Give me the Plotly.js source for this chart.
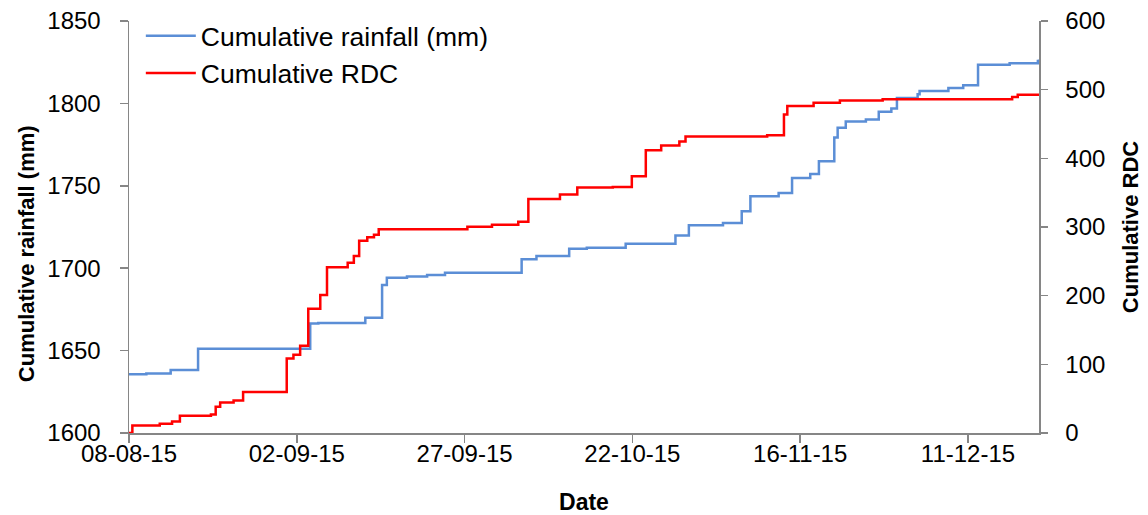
<!DOCTYPE html>
<html>
<head>
<meta charset="utf-8">
<script src="https://cdn.plot.ly/plotly-3.0.1.min.js"></script>
<style>
html,body{margin:0;padding:0;background:#fff;}
#chart{width:1148px;height:515px;}
</style>
</head>
<body>
<div id="chart"></div>
<script>
// Cumulative rainfall (mm) — step vertices
const rainDates = [
  '2015-08-08 00:00','2015-08-10 14:00','2015-08-14 05:00','2015-08-18 07:00',
  '2015-09-04 00:00','2015-09-05 05:00','2015-09-12 05:00','2015-09-14 17:00',
  '2015-09-15 10:00','2015-09-18 10:00','2015-09-21 10:00','2015-09-24 02:00',
  '2015-10-05 12:00','2015-10-07 17:00','2015-10-12 14:00','2015-10-15 05:00',
  '2015-10-21 00:00','2015-10-28 10:00','2015-10-30 10:00','2015-11-04 12:00',
  '2015-11-07 07:00','2015-11-08 14:00','2015-11-12 19:00','2015-11-14 19:00',
  '2015-11-17 12:00','2015-11-18 19:00','2015-11-21 02:00','2015-11-21 14:00',
  '2015-11-22 19:00','2015-11-25 19:00','2015-11-27 17:00','2015-11-29 14:00',
  '2015-11-30 10:00','2015-12-03 12:00','2015-12-03 19:00','2015-12-08 02:00',
  '2015-12-10 07:00','2015-12-12 12:00','2015-12-17 05:00','2015-12-21 10:00',
  '2015-12-21 14:00'
];
const rainValues = [
  1635.7,1636.1,1638.3,1651.1,
  1666.5,1666.8,1670.0,1689.8,
  1694.2,1694.9,1695.9,1697.3,
  1705.4,1707.4,1711.8,1712.4,
  1714.8,1719.9,1726.0,1727.4,
  1734.6,1743.7,1745.7,1754.8,
  1757.1,1764.9,1779.3,1785.3,
  1789.0,1790.2,1795.0,1796.9,
  1803.3,1805.5,1807.5,1809.3,
  1811.0,1823.5,1824.3,1825.7,
  1826.7
];

// Cumulative RDC — step vertices
const rdcDates = [
  '2015-08-08 00:00','2015-08-08 12:00','2015-08-12 14:00','2015-08-14 10:00',
  '2015-08-15 14:00','2015-08-20 05:00','2015-08-20 22:00','2015-08-21 14:00',
  '2015-08-23 14:00','2015-08-25 00:00','2015-08-31 12:00','2015-09-01 12:00',
  '2015-09-02 12:00','2015-09-03 17:00','2015-09-05 12:00','2015-09-06 12:00',
  '2015-09-09 14:00','2015-09-10 12:00','2015-09-11 07:00','2015-09-12 12:00',
  '2015-09-13 12:00','2015-09-14 05:00','2015-09-27 10:00','2015-10-01 02:00',
  '2015-10-05 00:00','2015-10-06 12:00','2015-10-11 05:00','2015-10-13 19:00',
  '2015-10-19 02:00','2015-10-21 22:00','2015-10-24 00:00','2015-10-26 07:00',
  '2015-10-29 00:00','2015-10-29 22:00','2015-11-11 02:00','2015-11-13 14:00',
  '2015-11-14 02:00','2015-11-18 00:00','2015-11-21 22:00','2015-11-28 07:00',
  '2015-12-17 14:00','2015-12-18 10:00','2015-12-21 14:00'
];
const rdcValues = [
  0,11.0,13.5,16.9,
  25.1,27.0,38.2,44.5,
  47.4,59.6,108.4,113.8,
  126.9,181.1,201.0,241.3,
  248.0,257.7,279.9,284.9,
  288.7,296.9,300.3,303.2,
  307.6,340.6,347.4,357.6,
  358.4,374.0,411.8,418.6,
  424.4,431.7,433.6,463.7,
  476.2,481.1,484.4,485.9,
  489.2,492.7,494.2
];

const seriesNames = ['Cumulative rainfall (mm)', 'Cumulative RDC'];
const xTitle = 'Date';
const yLeftTitle = 'Cumulative rainfall (mm)';
const yRightTitle = 'Cumulative RDC';

const FONT = '"Liberation Sans", Arial, Helvetica, sans-serif';
const AXIS = '#868686';

const traces = [
  {
    x: rainDates, y: rainValues, name: seriesNames[0],
    type: 'scatter', mode: 'lines', line: {color: '#5B8ED6', width: 2.5, shape: 'hv'},
    yaxis: 'y', legendrank: 1
  },
  {
    x: rdcDates, y: rdcValues, name: seriesNames[1],
    type: 'scatter', mode: 'lines', line: {color: '#FF0000', width: 2.5, shape: 'hv'},
    yaxis: 'y2', legendrank: 2
  }
];

const layout = {
  width: 1148, height: 515,
  paper_bgcolor: '#ffffff', plot_bgcolor: '#ffffff',
  margin: {l: 128.5, r: 108.5, t: 20.5, b: 81.7, pad: 0},
  font: {family: FONT, color: '#000000', size: 24},
  showlegend: true,
  legend: {
    x: 0.013, y: 1.022, xanchor: 'left', yanchor: 'top',
    bgcolor: 'rgba(0,0,0,0)', font: {family: FONT, size: 26.5, color: '#000'},
    tracegroupgap: 0, itemwidth: 50
  },
  xaxis: {
    type: 'date',
    range: ['2015-08-08 00:00', '2015-12-21 14:00'],
    tick0: '2015-08-08', dtick: 25 * 86400000,
    tickformat: '%d-%m-%y',
    showgrid: false, zeroline: false,
    showline: true, linecolor: AXIS, linewidth: 1.5,
    ticks: 'outside', ticklen: 8, tickcolor: AXIS, tickwidth: 1.5,
    ticklabelstandoff: -9,
    tickfont: {family: FONT, size: 24, color: '#000'},
    title: {text: xTitle, standoff: 30, font: {family: FONT, size: 23, color: '#000', weight: 'bold'}}
  },
  yaxis: {
    range: [1600, 1850], dtick: 50,
    showgrid: false, zeroline: false,
    showline: true, linecolor: AXIS, linewidth: 1.5,
    ticks: 'outside', ticklen: 8, tickcolor: AXIS, tickwidth: 1.5,
    ticklabelstandoff: 14,
    tickfont: {family: FONT, size: 24, color: '#000'}
  },
  yaxis2: {
    range: [0, 600], dtick: 100,
    overlaying: 'y', side: 'right',
    showgrid: false, zeroline: false,
    showline: true, linecolor: AXIS, linewidth: 1.5,
    ticks: 'outside', ticklen: 7, tickcolor: AXIS, tickwidth: 1.5,
    ticklabelstandoff: 13,
    tickfont: {family: FONT, size: 24, color: '#000'},
    title: {text: yRightTitle, standoff: 18, font: {family: FONT, size: 22, color: '#000', weight: 'bold'}}
  },
  annotations: [
    {
      text: yLeftTitle, textangle: -90,
      xref: 'paper', yref: 'paper',
      x: -0.1128, y: 0.435, xanchor: 'center', yanchor: 'middle',
      showarrow: false,
      font: {family: FONT, size: 22, color: '#000', weight: 'bold'}
    }
  ]
};

Plotly.newPlot('chart', traces, layout, {displayModeBar: false, staticPlot: true});
</script>
</body>
</html>
